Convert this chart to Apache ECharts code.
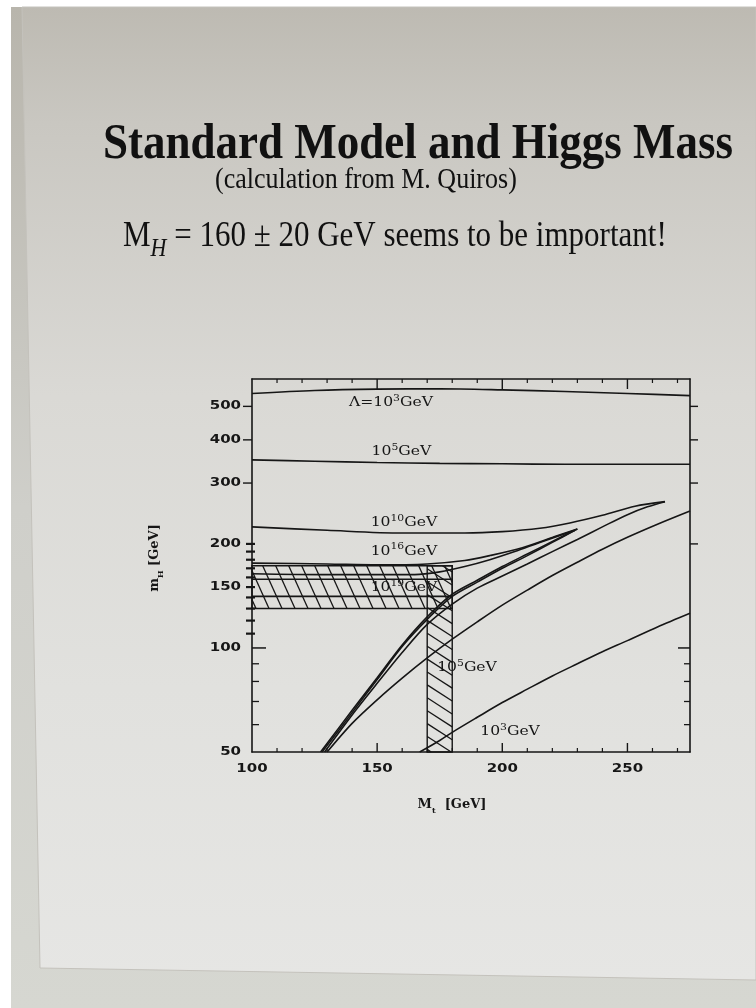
<!DOCTYPE html>
<html>
<head>
<meta charset="utf-8">
<title>Standard Model and Higgs Mass</title>
<script src="https://cdn.jsdelivr.net/npm/echarts@6/dist/echarts.min.js"></script>
<style>
html, body { margin: 0; padding: 0; background: #fff; }
#main { width: 756px; height: 1008px; }
</style>
</head>
<body>
<div id="main"></div>
<script>
// curves, [M_t, m_H] in GeV
var upper1e3 = [[100,545],[125,556],[150,561],[175,562],[200,558],[225,552],[250,545],[275,537]];
var upper1e5 = [[100,350],[125,347],[150,344],[175,342],[200,341],[225,340],[250,340],[275,340]];
var upper1e10 = [[100,224],[130,219],[160,215],[185,215],[200,217],[215,222],[227,230],[240,242],[253,257],[265,265]];
var lower1e10 = [[129,50],[140,64],[150,79],[160,97],[170,117],[180,134],[190,149],[200,161.5],[210,175],[220,190],[230,206],[240,224],[250,243],[258,256],[265,265]];
var upper1e16 = [[100,176],[130,175],[150,174],[170,175],[185,179],[195,185],[208,195],[221,210],[230,221]];
var lower1e16 = [[127.4,50],[140,66],[150,82],[160,102],[170,123],[180,143],[190,157],[200,172],[210,187],[221,205],[230,221]];
var upper1e19 = [[100,164],[130,163],[150,163],[165,163],[175,166],[185,172],[195,180],[205,190],[215,202],[229,219]];
var lower1e19 = [[128,50],[140,65],[150,81],[160,101],[170,121],[180,141],[190,155],[200,170],[210,185],[220,202],[229,219]];
var lower1e5 = [[130,50],[140,60.5],[150,70.8],[160,81.8],[170,93.6],[180,106],[190,119],[200,133],[210,147],[220,162],[230,177],[240,193],[250,209],[262,228],[275,249]];
var lower1e3 = [[167,50],[175,54],[180,57],[190,63],[200,69.5],[210,76],[220,83],[230,90],[240,97.5],[250,105],[262,115],[275,126]];

// hatched regions: [M_t from, M_t to, m_H from, m_H to]
var hatchBands = [[100,180,130,173],[170,180,50,173]];
var bandInnerLines = [141, 158];

// curve labels: mantissa, exponent, unit
var curveLabelHead = ['\u039b=10','10','10','10','10','10','10'];
var curveLabelExp = ['3','5','10','16','19','5','3'];
var curveLabelAt = [[155.5,512],[159.7,369],[160.7,230],[160.7,190],[160.7,149],[185.9,87.5],[203.1,57.1]];

// axis ticks and tick labels
var xTickLabels = [100, 150, 200, 250];
var yTickLabels = [50, 100, 150, 200, 300, 400, 500];
var xMinorTicks = [110,120,130,140,160,170,180,190,210,220,230,240,260,270];
var xMajorTicks = [150, 200, 250];
var ySmallTicks = [60, 70, 80, 90];
var yBoldTicks = [110,120,130,140,150,160,170,180,190,200];
var yLeftOutTicks = [300, 400, 500];
var yRightOutTicks = [200, 300, 400, 500];
var yHundredTick = [100];

var ink = '#161616';
var xMin = 100, xMax = 275, yMin = 50, yMax = 600;

var chart = echarts.init(document.getElementById('main'));

function tickSeries(points, side, inLen, outLen, width) {
  return {
    type: 'custom',
    coordinateSystem: 'cartesian2d',
    clip: false,
    silent: true,
    z: 5,
    data: points,
    renderItem: function (params, api) {
      var p = api.coord([api.value(0), api.value(1)]);
      var s = {x1: p[0], y1: p[1], x2: p[0], y2: p[1]};
      if (side === 'left') { s.x1 = p[0] - outLen; s.x2 = p[0] + inLen; }
      else if (side === 'right') { s.x1 = p[0] + outLen; s.x2 = p[0] - inLen; }
      else if (side === 'bottom') { s.y1 = p[1] + outLen; s.y2 = p[1] - inLen; }
      else { s.y1 = p[1] - outLen; s.y2 = p[1] + inLen; }
      return {type: 'line', shape: s, style: {stroke: ink, lineWidth: width}};
    }
  };
}

function onX(vals, y) { return vals.map(function (v) { return [v, y]; }); }
function onY(vals, x) { return vals.map(function (v) { return [x, v]; }); }

function curve(data) {
  return {
    type: 'line',
    data: data,
    smooth: 0.3,
    showSymbol: false,
    silent: true,
    z: 3,
    lineStyle: {color: ink, width: 1.6}
  };
}

var hatchStyle = [{slope: 0.45, gap: 13}, {slope: 1.55, gap: 20}];

function textLabel(text, x, y, align, font, sx) {
  return {
    type: 'text', x: x, y: y, scaleX: sx,
    style: {text: text, x: 0, y: 0, textAlign: align, align: align,
      textVerticalAlign: 'middle', verticalAlign: 'middle', font: font, fill: ink}
  };
}

var series = [
  curve(upper1e3), curve(upper1e5), curve(upper1e10), curve(lower1e10),
  curve(upper1e16), curve(lower1e16), curve(upper1e19), curve(lower1e19),
  curve(lower1e5), curve(lower1e3)
];

bandInnerLines.forEach(function (v) {
  series.push(curve([[hatchBands[0][0], v], [hatchBands[0][1], v]]));
});

// hatched bands
series.push({
  type: 'custom',
  coordinateSystem: 'cartesian2d',
  silent: true,
  clip: false,
  z: 4,
  data: hatchBands,
  renderItem: function (params, api) {
    var tl = api.coord([api.value(0), api.value(3)]);
    var br = api.coord([api.value(1), api.value(2)]);
    var L = tl[0], T = tl[1], R = br[0], B = br[1], H = B - T;
    var st = hatchStyle[params.dataIndex];
    var k = st.slope;
    var kids = [];
    for (var c = L - k * H + 4; c < R; c += st.gap) {
      var xa = c, ya = T, xb = c + k * H, yb = B;
      if (xa < L) { ya = T + (L - c) / k; xa = L; }
      if (xb > R) { yb = T + (R - c) / k; xb = R; }
      if (yb <= ya) continue;
      kids.push({type: 'line', shape: {x1: xa, y1: ya, x2: xb, y2: yb},
        style: {stroke: ink, lineWidth: 1.3}});
    }
    kids.push({type: 'rect', shape: {x: L, y: T, width: R - L, height: H},
      style: {fill: 'none', stroke: ink, lineWidth: 1.4}});
    return {type: 'group', children: kids};
  }
});

// ticks
series.push(tickSeries(onX(xMinorTicks, yMin), 'bottom', 4, 0, 1.2));
series.push(tickSeries(onX(xMajorTicks, yMin), 'bottom', 9, 0, 1.4));
series.push(tickSeries(onX(xMinorTicks, yMax), 'top', 4, 0, 1.2));
series.push(tickSeries(onX(xMajorTicks, yMax), 'top', 10, 0, 1.4));
series.push(tickSeries(onY(ySmallTicks, xMin), 'left', 7, 0, 1.3));
series.push(tickSeries(onY(yHundredTick, xMin), 'left', 14, 0, 1.5));
series.push(tickSeries(onY(yBoldTicks, xMin), 'left', 3, 6, 2.2));
series.push(tickSeries(onY(yLeftOutTicks, xMin), 'left', 0, 9, 1.4));
series.push(tickSeries(onY(ySmallTicks, xMax), 'right', 6, 0, 1.3));
series.push(tickSeries(onY(yHundredTick, xMax), 'right', 12, 0, 1.5));
series.push(tickSeries(onY(yRightOutTicks, xMax), 'right', 0, 8, 1.4));

// tick labels
series.push({
  type: 'custom', coordinateSystem: 'cartesian2d', silent: true, clip: false, z: 6,
  data: onY(yTickLabels, xMin),
  renderItem: function (params, api) {
    var p = api.coord([api.value(0), api.value(1)]);
    return textLabel(String(api.value(1)), p[0] - 11, p[1], 'right', 'bold 12px "DejaVu Sans"', 1.25);
  }
});
series.push({
  type: 'custom', coordinateSystem: 'cartesian2d', silent: true, clip: false, z: 6,
  data: onX(xTickLabels, yMin),
  renderItem: function (params, api) {
    var p = api.coord([api.value(0), api.value(1)]);
    return textLabel(String(api.value(0)), p[0], p[1] + 17, 'center', 'bold 12px "DejaVu Sans"', 1.25);
  }
});

// curve labels with raised exponents
var labelRich = {
  a: {fontFamily: 'DejaVu Serif', fontSize: 13, lineHeight: 18, verticalAlign: 'middle', fill: ink, color: ink},
  p: {fontFamily: 'DejaVu Serif', fontSize: 9, lineHeight: 9, verticalAlign: 'top', fill: ink, color: ink}
};
series.push({
  type: 'custom', coordinateSystem: 'cartesian2d', silent: true, clip: false, z: 3,
  data: curveLabelAt,
  renderItem: function (params, api) {
    var p = api.coord([api.value(0), api.value(1)]);
    var i = params.dataIndex;
    return {
      type: 'text', x: p[0], y: p[1], scaleX: 1.2,
      style: {text: '{a|' + curveLabelHead[i] + '}{p|' + curveLabelExp[i] + '}{a|GeV}',
        rich: labelRich, x: 0, y: 0, textAlign: 'center', align: 'center',
        textVerticalAlign: 'middle', verticalAlign: 'middle', fill: ink}
    };
  }
});

var frameLine = {show: true, onZero: false, lineStyle: {color: ink, width: 1.6}};

var option = {
  animation: false,
  backgroundColor: '#ffffff',
  grid: {left: 252, top: 379, width: 438, height: 373, containLabel: false},
  xAxis: [
    {type: 'value', min: xMin, max: xMax, position: 'bottom', axisLine: frameLine,
      axisTick: {show: false}, axisLabel: {show: false}, splitLine: {show: false}},
    {type: 'value', min: xMin, max: xMax, position: 'top', axisLine: frameLine,
      axisTick: {show: false}, axisLabel: {show: false}, splitLine: {show: false}}
  ],
  yAxis: [
    {type: 'log', min: yMin, max: yMax, position: 'left', axisLine: frameLine,
      axisTick: {show: false}, axisLabel: {show: false}, splitLine: {show: false}},
    {type: 'log', min: yMin, max: yMax, position: 'right', axisLine: frameLine,
      axisTick: {show: false}, axisLabel: {show: false}, splitLine: {show: false}}
  ],
  graphic: {
    elements: [
      {type: 'rect', z: -20, shape: {x: 11, y: 7, width: 745, height: 1001},
        style: {fill: {type: 'linear', x: 0, y: 0, x2: 0, y2: 1,
          colorStops: [{offset: 0, color: '#b8b5ac'}, {offset: 0.5, color: '#cfcfca'}, {offset: 1, color: '#d6d7d1'}]}}},
      {type: 'polygon', z: -19, shape: {points: [[22, 7], [756, 7], [756, 980], [40, 968]]},
        style: {stroke: '#c4c2bc', lineWidth: 1, fill: {type: 'linear', x: 0, y: 0, x2: 0, y2: 1,
          colorStops: [{offset: 0, color: '#bdbab2'}, {offset: 0.12, color: '#c9c7c1'},
            {offset: 0.4, color: '#dad9d5'}, {offset: 0.7, color: '#e1e1de'}, {offset: 1, color: '#e6e6e4'}]}}},
      {type: 'text', z: 10, x: 103, y: 145, scaleY: 1.13,
        style: {text: 'Standard Model and Higgs Mass', x: 0, y: 0, textAlign: 'left', align: 'left',
          textVerticalAlign: 'middle', verticalAlign: 'middle',
          font: 'bold 45px "Liberation Serif"', fill: '#111'}},
      {type: 'text', z: 10, x: 215, y: 180, scaleY: 1.13,
        style: {text: '(calculation from M. Quiros)', x: 0, y: 0, textAlign: 'left', align: 'left',
          textVerticalAlign: 'middle', verticalAlign: 'middle',
          font: '26px "Liberation Serif"', fill: '#111'}},
      {type: 'text', z: 10, x: 123, y: 237, scaleY: 1.13,
        style: {text: '{a|M}{s|H}{a| = 160 \u00b1 20 GeV seems to be important!}', x: 0, y: 0,
          textAlign: 'left', align: 'left', textVerticalAlign: 'middle', verticalAlign: 'middle',
          fill: '#111',
          rich: {
            a: {fontFamily: 'Liberation Serif', fontSize: 31, lineHeight: 44, fill: '#111', color: '#111'},
            s: {fontFamily: 'Liberation Serif', fontSize: 22, fontStyle: 'italic', lineHeight: 22,
              verticalAlign: 'bottom', fill: '#111', color: '#111'}
          }}},
      {type: 'text', z: 10, x: 155, y: 558, rotation: Math.PI / 2,
        style: {text: '{a|m}{s|H}{a| [GeV]}', x: 0, y: 0, textAlign: 'center', align: 'center',
          textVerticalAlign: 'middle', verticalAlign: 'middle', fill: ink,
          rich: {
            a: {fontFamily: 'DejaVu Serif', fontWeight: 'bold', fontSize: 13, lineHeight: 20, fill: ink, color: ink},
            s: {fontFamily: 'DejaVu Serif', fontWeight: 'bold', fontSize: 8, lineHeight: 8,
              verticalAlign: 'bottom', fill: ink, color: ink}
          }}},
      {type: 'text', z: 10, x: 452, y: 805,
        style: {text: '{a|M}{s|t}{a|  [GeV]}', x: 0, y: 0, textAlign: 'center', align: 'center',
          textVerticalAlign: 'middle', verticalAlign: 'middle', fill: ink,
          rich: {
            a: {fontFamily: 'DejaVu Serif', fontWeight: 'bold', fontSize: 13, lineHeight: 20, fill: ink, color: ink},
            s: {fontFamily: 'DejaVu Serif', fontWeight: 'bold', fontSize: 8, lineHeight: 8,
              verticalAlign: 'bottom', fill: ink, color: ink}
          }}}
    ]
  },
  series: series
};

chart.setOption(option);
</script>
</body>
</html>
